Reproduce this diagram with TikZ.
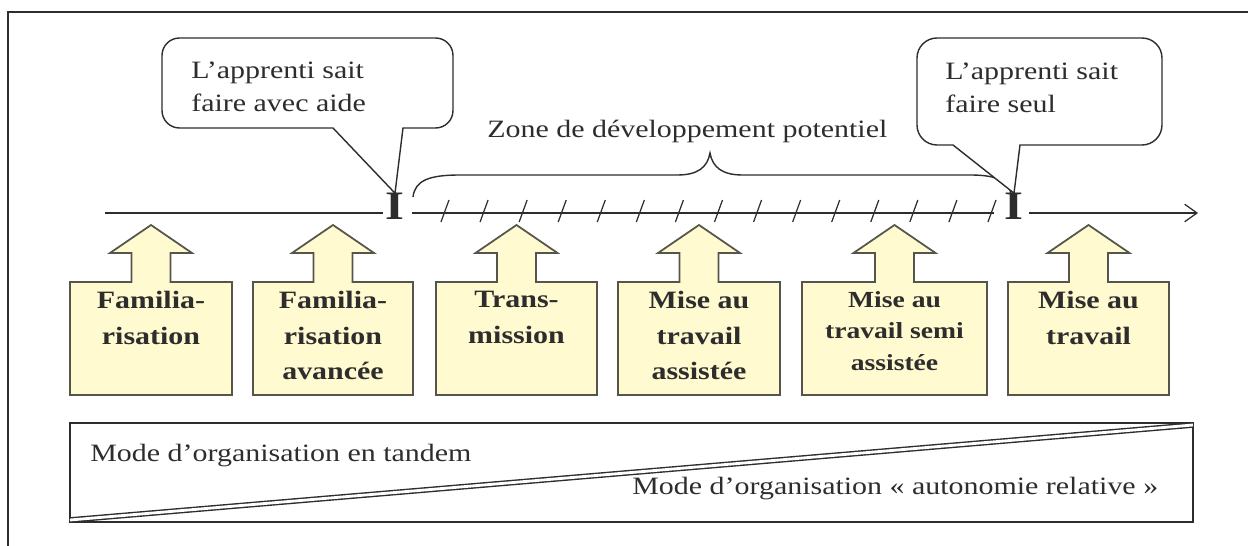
\documentclass[tikz,border=0pt]{standalone}
\usepackage{fontspec}
\setmainfont{Liberation Serif}[FakeStretch=1.2]
\usetikzlibrary{positioning,arrows.meta}

\definecolor{ink}{RGB}{45,45,45}
\definecolor{phasefill}{RGB}{255,250,208}
\definecolor{phaseline}{RGB}{85,85,75}

\tikzset{
  label text/.style={font=\fontsize{14.2}{18.8}\selectfont, text=ink, inner sep=0pt},
  phase text/.style={font=\bfseries\fontsize{14.2}{20.2}\selectfont, text=ink, inner sep=0pt, align=center},
  phase/.style={draw=phaseline, fill=phasefill, line width=1pt},
  bubble/.style={draw=ink, line width=0.8pt},
  axis/.style={draw=ink, line width=0.7pt},
  marker/.style={font=\bfseries\fontsize{23}{23}\selectfont, text=ink, inner sep=0pt, anchor=base},
}

% one phase: a box with a fat arrow pointing up to the line
\newcommand{\phasebox}[5][]{%
  \draw[phase] (#2,-7.9) -- (#2,-5.64) -- ({(#2+#3)/2-0.39},-5.64) -- ({(#2+#3)/2-0.39},-5.06)
    -- ({(#2+#3)/2-0.82},-5.06) -- ({(#2+#3)/2},-4.5) -- ({(#2+#3)/2+0.82},-5.06)
    -- ({(#2+#3)/2+0.39},-5.06) -- ({(#2+#3)/2+0.39},-5.64) -- (#3,-5.64) -- (#3,-7.9) -- cycle;
  \node[phase text, anchor=north, #1] (#4) at ({(#2+#3)/2},-5.82) {#5};
}

\begin{document}
\begin{tikzpicture}
    \useasboundingbox (0,0) rectangle (24.96,-10.92);
    \draw[line width=0.8pt, ink] (0.16,-10.92) -- (0.16,-0.24) -- (24.96,-0.24);

    % the line with its two marks
    \node[marker] (aide) at (7.9,-4.4) {I};
    \node[marker] (seul) at (20.28,-4.4) {I};
    \coordinate (start) at (2.1,-4.26);
    \coordinate (end) at (23.96,-4.26);
    \draw[axis] (start) -- ([xshift=-1pt]aide.west |- start);
    \draw[axis] ([xshift=4pt]aide.east |- start) -- ([xshift=-6pt]seul.west |- start);
    \foreach \k in {0,...,14}
        \draw[axis] ({8.9+0.7814*\k-0.08},-4.44) -- ++(0.16,0.44);
    \draw[axis, -{Straight Barb[length=7pt,width=10pt]}] ([xshift=3pt]seul.east |- start) -- (end);

    % zone
    \draw[bubble] (8.26,-3.94) .. controls (8.3,-3.6) and (8.6,-3.5) .. (9.2,-3.5) -- (13.55,-3.5)
        .. controls (13.95,-3.5) and (14.15,-3.35) .. (14.2,-3.06)
        .. controls (14.25,-3.35) and (14.45,-3.5) .. (14.85,-3.5) -- (19.4,-3.5)
        .. controls (19.9,-3.5) and (20.15,-3.6) .. (20.22,-3.86);
    \node[label text, anchor=base west] (zone) at (9.74,-2.76) {Zone de développement potentiel};

    % callouts
    \draw[bubble, fill=white] (6.66,-2.56) -- (3.59,-2.56) arc (270:180:0.35) -- (3.24,-1.11) arc (180:90:0.35)
        -- (8.71,-0.76) arc (90:0:0.35) -- (9.06,-2.21) arc (0:-90:0.35) -- (8.06,-2.56) -- (aide.north) -- cycle;
    \node[label text, anchor=north west, align=left] (aidetext) at (3.82,-1.24) {L'apprenti sait\\faire avec aide};

    \draw[bubble, fill=white] (19.06,-2.9) -- (18.74,-2.9) arc (270:180:0.4) -- (18.34,-1.16) arc (180:90:0.4)
        -- (22.84,-0.76) arc (90:0:0.4) -- (23.24,-2.5) arc (0:-90:0.4) -- (20.4,-2.9) -- (seul.north) -- cycle;
    \node[label text, anchor=north west, align=left] (seultext) at (18.9,-1.26) {L'apprenti sait\\faire seul};

    % phases
    \phasebox{1.4}{4.64}{fam}{Familia-\\risation}
    \phasebox{5.06}{8.26}{famav}{Familia-\\risation\\avancée}
    \phasebox{8.72}{11.94}{trans}{Trans-\\mission}
    \phasebox{12.36}{15.6}{assist}{Mise au\\travail\\assistée}
    \phasebox[font=\bfseries\fontsize{13.1}{17.9}\selectfont]{16.04}{19.74}{semi}{Mise au\\travail semi\\assistée}
    \phasebox{20.16}{23.38}{travail}{Mise au\\travail}

    % modes
    \draw[line width=0.8pt, ink] (1.4,-8.46) rectangle (23.86,-10.44);
    \draw[ink, double, double distance=1.6pt, line width=0.8pt] (1.4,-10.4) -- (23.86,-8.5);
    \node[label text, anchor=base west] (tandem) at (1.8,-9.24) {Mode d'organisation en tandem};
    \node[label text, anchor=base west] (autonomie) at (12.64,-9.9) {Mode d'organisation « autonomie relative »};
\end{tikzpicture}
\end{document}
